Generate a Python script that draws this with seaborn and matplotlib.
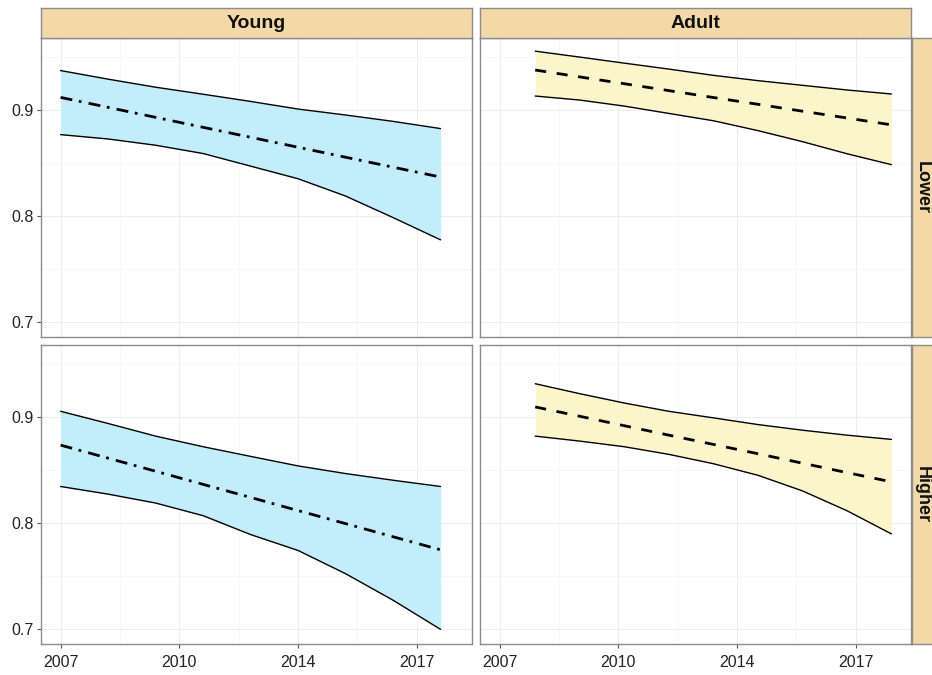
import matplotlib
matplotlib.use("Agg")
import matplotlib.pyplot as plt
import seaborn as sns
import pandas as pd

# ---------------- data ----------------
col_labels = ["Young", "Adult"]
row_labels = ["Lower", "Higher"]
tick_pos = [0, 1, 2, 3]
tick_labels = ["2007", "2010", "2014", "2017"]
y_ticks = [0.7, 0.8, 0.9]

t_young = [0.0, 0.4, 0.8, 1.2, 1.6, 2.0, 2.4, 2.8, 3.2]
t_adult = [0.3, 0.675, 1.05, 1.425, 1.8, 2.175, 2.55, 2.925, 3.3]

young_lower_fit = [0.9118, 0.9024, 0.8930, 0.8836, 0.8742, 0.8648, 0.8554, 0.8460, 0.8367]
young_lower_hi = [0.9371, 0.9290, 0.9214, 0.9148, 0.9080, 0.9008, 0.8952, 0.8892, 0.8824]
young_lower_lo = [0.8767, 0.8726, 0.8667, 0.8589, 0.8470, 0.8351, 0.8188, 0.7985, 0.7775]

adult_lower_fit = [0.9376, 0.9311, 0.9247, 0.9182, 0.9117, 0.9053, 0.8988, 0.8924, 0.8859]
adult_lower_hi = [0.9554, 0.9498, 0.9441, 0.9385, 0.9326, 0.9276, 0.9232, 0.9188, 0.9150]
adult_lower_lo = [0.9131, 0.9093, 0.9036, 0.8967, 0.8898, 0.8805, 0.8701, 0.8587, 0.8484]

young_higher_fit = [0.8734, 0.8611, 0.8488, 0.8364, 0.8241, 0.8117, 0.7994, 0.7870, 0.7747]
young_higher_hi = [0.9053, 0.8938, 0.8819, 0.8719, 0.8628, 0.8538, 0.8466, 0.8403, 0.8344]
young_higher_lo = [0.8344, 0.8272, 0.8188, 0.8069, 0.7891, 0.7741, 0.7522, 0.7272, 0.6997]

adult_higher_fit = [0.9094, 0.9006, 0.8917, 0.8828, 0.8741, 0.8653, 0.8564, 0.8475, 0.8388]
adult_higher_hi = [0.9313, 0.9219, 0.9131, 0.9053, 0.8991, 0.8928, 0.8875, 0.8828, 0.8788]
adult_higher_lo = [0.8819, 0.8772, 0.8719, 0.8647, 0.8559, 0.8450, 0.8303, 0.8116, 0.7897]

# ---------------- styling ----------------
sns.set_theme(style="white")
plt.rcParams["font.family"] = ["Liberation Sans", "DejaVu Sans"]

W, H = 932, 675
fig = plt.figure(figsize=(W / 100, H / 100), dpi=100)
fig.patch.set_facecolor("white")

ribbon_colors = {"Young": "#C4EDFB", "Adult": "#FCF5CC"}
mean_dashes = {"Young": (4.3, 2.4, 1.0, 2.6), "Adult": (4.0, 3.8)}
strip_color = "#F4D9A8"
border_color = "#8C8C8C"

panel_x = {"Young": 41, "Adult": 480}
panel_y = {"Lower": 38, "Higher": 345}
pw, ph = 431, 299

data = {
    ("Young", "Lower"): (t_young, young_lower_fit, young_lower_lo, young_lower_hi),
    ("Adult", "Lower"): (t_adult, adult_lower_fit, adult_lower_lo, adult_lower_hi),
    ("Young", "Higher"): (t_young, young_higher_fit, young_higher_lo, young_higher_hi),
    ("Adult", "Higher"): (t_adult, adult_higher_fit, adult_higher_lo, adult_higher_hi),
}


def fig_rect(x, y, w, h):
    return [x / W, 1 - (y + h) / H, w / W, h / H]


for r, row in enumerate(row_labels):
    for c, col in enumerate(col_labels):
        ax = fig.add_axes(fig_rect(panel_x[col], panel_y[row], pw, ph))
        t, fit, lo, hi = data[(col, row)]
        df = pd.DataFrame({"t": t, "fit": fit, "lo": lo, "hi": hi})
        ax.fill_between(df["t"], df["lo"], df["hi"], color=ribbon_colors[col],
                        linewidth=0, zorder=2)
        sns.lineplot(data=df, x="t", y="hi", ax=ax, color="black", lw=1.0, zorder=3)
        sns.lineplot(data=df, x="t", y="lo", ax=ax, color="black", lw=1.0, zorder=3)
        ln = sns.lineplot(data=df, x="t", y="fit", ax=ax, color="black", lw=2.0, zorder=4)
        ln.lines[-1].set_dashes(mean_dashes[col])

        ax.set_xlim(-0.165, 3.465)
        ax.set_ylim(0.6859, 0.9678)
        ax.set_xticks(tick_pos)
        ax.set_xticks([0.5, 1.5, 2.5], minor=True)
        ax.set_yticks(y_ticks)
        ax.set_yticks([0.75, 0.85, 0.95], minor=True)
        ax.grid(True, which="major", color="#EDEDED", lw=0.8, zorder=0)
        ax.grid(True, which="minor", color="#F6F6F6", lw=0.6, zorder=0)
        ax.set_axisbelow(True)
        ax.set_xlabel("")
        ax.set_ylabel("")
        for s in ax.spines.values():
            s.set_color(border_color)
            s.set_linewidth(1.0)
            s.set_visible(True)
        ax.tick_params(axis="both", which="major", length=3, width=0.8,
                       color="#555555", labelsize=11.5, labelcolor="#222222", pad=2,
                       left=(c == 0), bottom=(r == 1),
                       labelleft=(c == 0), labelbottom=(r == 1))
        ax.tick_params(axis="x", which="major", pad=5)
        ax.tick_params(which="minor", length=0)
        if c == 0:
            ax.set_yticklabels([f"{v:.1f}" for v in y_ticks])
        if r == 1:
            ax.set_xticklabels(tick_labels)

        # column strips
        if r == 0:
            sax = fig.add_axes(fig_rect(panel_x[col], 8, pw, 30))
            sax.set_facecolor(strip_color)
            sax.set_xticks([])
            sax.set_yticks([])
            for s in sax.spines.values():
                s.set_color(border_color)
                s.set_linewidth(1.0)
            sax.text(0.5, 0.5, col, ha="center", va="center", fontsize=14,
                     fontweight="bold", color="#111111", transform=sax.transAxes)
        # row strips
        if c == 1:
            sax = fig.add_axes(fig_rect(912, panel_y[row], 32, ph))
            sax.set_facecolor(strip_color)
            sax.set_xticks([])
            sax.set_yticks([])
            for s in sax.spines.values():
                s.set_color(border_color)
                s.set_linewidth(1.0)
            sax.text(0.31, 0.5, row, ha="center", va="center", fontsize=13,
                     fontweight="bold", color="#111111", rotation=-90,
                     transform=sax.transAxes)

fig.savefig("out.png", dpi=100, facecolor="white")
